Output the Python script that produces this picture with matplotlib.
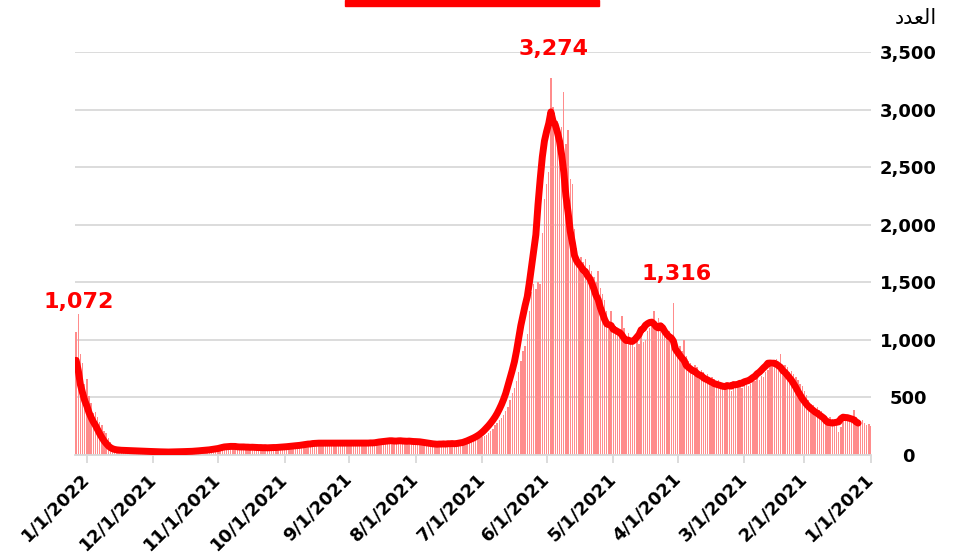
import matplotlib
matplotlib.use("Agg")  # no display
import matplotlib.pyplot as plt
from matplotlib.patches import Rectangle
import pandas as pd

# ---- data (daily counts) ----
start_date = "2021-01-01"
daily_cases = [
    250, 270, 260, 280, 300, 290, 290,
    330, 390, 310, 320, 340, 300, 310,
    240, 200, 280, 300, 310, 330, 320,
    340, 360, 380, 390, 420, 400, 430,
    440, 480, 520, 560, 600, 620, 650,
    680, 700, 730, 720, 760, 780, 750,
    880, 800, 830, 780, 760, 790, 740,
    720, 680, 690, 650, 670, 640, 660,
    620, 600, 650, 610, 580, 640, 600,
    590, 610, 560, 620, 600, 580, 620,
    630, 650, 600, 660, 680, 640, 700,
    690, 720, 740, 700, 760, 780, 730,
    800, 820, 860, 1000, 900, 950, 920,
    980, 1316, 1050, 1080, 1040, 1120, 1150,
    1100, 1188, 1120, 1250, 1150, 1100, 1080,
    1000, 980, 1050, 960, 1000, 940, 980,
    1000, 1060, 1020, 1100, 1205, 1080, 1040,
    1080, 1120, 1248, 1150, 1250, 1350, 1400,
    1450, 1600, 1500, 1550, 1600, 1650, 1560,
    1700, 1680, 1720, 1700, 1795, 1959, 2350,
    2400, 2826, 2705, 3156, 2850, 2800, 2900,
    2850, 3026, 3274, 2462, 2358, 2227, 1925,
    1483, 1500, 1439, 1483, 1420, 1250, 1050,
    950, 900, 820, 720, 640, 580, 540,
    480, 420, 380, 350, 320, 300, 280,
    260, 230, 208, 190, 175, 165, 155,
    150, 140, 130, 120, 115, 105, 100,
    100, 95, 105, 90, 100, 95, 110,
    90, 95, 85, 100, 90, 95, 100,
    100, 110, 105, 120, 115, 110, 125,
    115, 120, 110, 125, 130, 120, 115,
    120, 130, 125, 120, 115, 125, 130,
    120, 115, 110, 105, 100, 110, 105,
    100, 105, 110, 95, 100, 105, 110,
    100, 110, 105, 100, 95, 110, 105,
    100, 110, 105, 100, 95, 110, 105,
    105, 100, 110, 95, 100, 105, 100,
    95, 90, 85, 90, 80, 85, 80,
    75, 80, 70, 75, 70, 65, 70,
    65, 70, 60, 65, 60, 65, 62,
    60, 65, 70, 62, 68, 65, 70,
    68, 70, 65, 72, 70, 75, 68,
    70, 80, 85, 75, 70, 65, 60,
    55, 50, 48, 45, 50, 42, 40,
    38, 40, 35, 33, 36, 32, 30,
    30, 28, 32, 30, 27, 29, 26,
    25, 28, 26, 24, 27, 25, 28,
    30, 28, 32, 30, 29, 31, 33,
    35, 33, 36, 38, 34, 36, 37,
    38, 40, 42, 39, 41, 43, 45,
    48, 55, 65, 80, 110, 150, 190,
    210, 260, 290, 330, 370, 367, 450,
    511, 660, 616, 800, 875, 1222, 1072,
]

month_ticks = ["2021-01-01", "2021-02-01", "2021-03-01", "2021-04-01",
               "2021-05-01", "2021-06-01", "2021-07-01", "2021-08-01",
               "2021-09-01", "2021-10-01", "2021-11-01", "2021-12-01",
               "2022-01-01"]
month_labels = ["1/1/2021", "2/1/2021", "3/1/2021", "4/1/2021",
                "5/1/2021", "6/1/2021", "7/1/2021", "8/1/2021",
                "9/1/2021", "10/1/2021", "11/1/2021", "12/1/2021",
                "1/1/2022"]
y_ticks = [0, 500, 1000, 1500, 2000, 2500, 3000, 3500]

# "العدد" written in presentation forms (matplotlib does no Arabic shaping)
y_title = "\uFEA9\uFEAA\uFECC\uFEDF\uFE8D"

# days whose value gets a red label
highlight_dates = ["2021-05-30", "2021-04-03", "2022-01-06"]

# ---- build series ----
dates = pd.date_range(start_date, periods=len(daily_cases), freq="D")
cases = pd.Series(daily_cases, index=dates)
avg7 = cases.rolling(7).mean()

fig = plt.figure(figsize=(9.56, 5.6), dpi=100)
ax = fig.add_axes([0.0785, 0.1875, 0.8326, 0.7196])

ax.bar(cases.index, cases.values, width=0.65, color="#ff8c8c", zorder=2)
ax.plot(avg7.index, avg7.values, color="#ff0000", linewidth=5,
        solid_capstyle="round", solid_joinstyle="round", zorder=3)

# x axis runs right-to-left (newest on the left)
ax.set_xlim(dates[-1] + pd.Timedelta(hours=12), pd.Timestamp(start_date))
ax.set_ylim(0, 3500)

# grid / spines
ax.set_axisbelow(True)
ax.yaxis.grid(True, color="#d9d9d9", linewidth=1.3)
for side in ("top", "left", "right"):
    ax.spines[side].set_visible(False)
ax.spines["bottom"].set_color("#d9d9d9")
ax.spines["bottom"].set_linewidth(1.3)

# y ticks on the right
ax.yaxis.tick_right()
ax.set_yticks(y_ticks)
ax.set_yticklabels([f"{v:,}" for v in y_ticks], fontsize=13, fontweight="bold")
ax.tick_params(axis="y", length=0, pad=27)
for lbl in ax.get_yticklabels():
    lbl.set_horizontalalignment("center")

# x ticks: month starts, rotated
ax.set_xticks(pd.to_datetime(month_ticks))
ax.set_xticklabels(month_labels, rotation=45, ha="right", va="center",
                   rotation_mode="anchor", fontsize=13, fontweight="bold")
ax.tick_params(axis="x", length=6, width=1.3, color="#d9d9d9", pad=9)

# value labels
for d in highlight_dates:
    v = cases[pd.Timestamp(d)]
    ax.annotate(f"{v:,}", xy=(pd.Timestamp(d), v), xytext=(2, 21),
                textcoords="offset points", ha="center", va="center",
                color="#ff0000", fontsize=16, fontweight="bold", zorder=4)

# axis title (top right) and red title bar
fig.text(0.958, 0.968, y_title, ha="center", va="center", fontsize=15,
         family=["DejaVu Sans"])
fig.add_artist(Rectangle((0.361, 0.989), 0.266, 0.011,
                         transform=fig.transFigure, color="#ff0000"))

fig.savefig("out.png", dpi=100)
plt.close(fig)
